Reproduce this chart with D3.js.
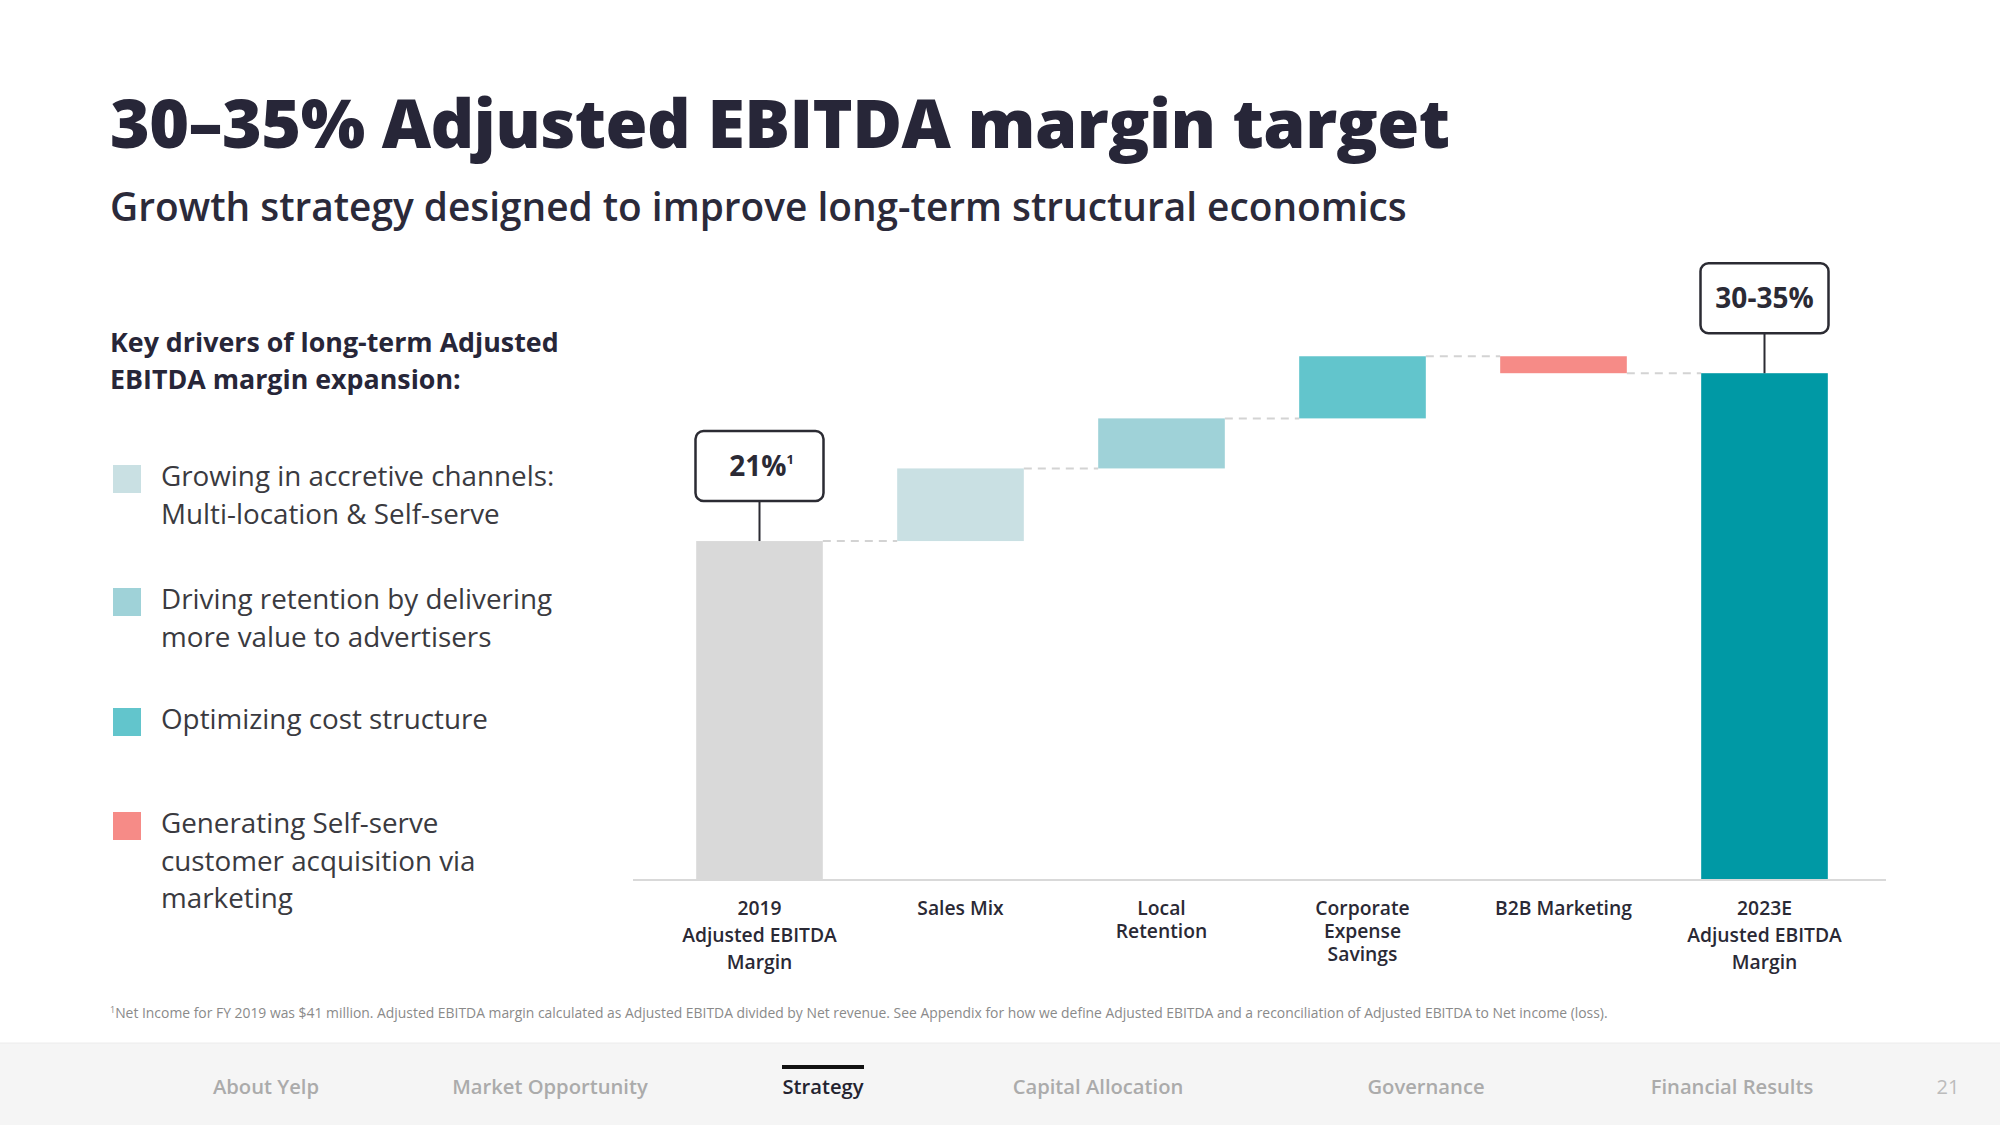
<!DOCTYPE html>
<html>
<head>
<meta charset="utf-8">
<script src="https://cdn.jsdelivr.net/npm/d3@7"></script>
<style>
  html, body { margin: 0; padding: 0; background: #ffffff; }
  svg { display: block; }
  text { font-family: "Open Sans", "Noto Sans", sans-serif; }
</style>
</head>
<body>
<svg id="chart" width="2000" height="1125"></svg>
<script>
// ---------- data ----------
const categories = ["2019 Adjusted EBITDA Margin", "Sales Mix", "Local Retention", "Corporate Expense Savings", "B2B Marketing", "2023E Adjusted EBITDA Margin"];
const categoryLines = [["2019", "Adjusted EBITDA", "Margin"], ["Sales Mix"], ["Local", "Retention"], ["Corporate", "Expense", "Savings"], ["B2B Marketing"], ["2023E", "Adjusted EBITDA", "Margin"]];
const values = [21, 4.5, 3.1, 3.85, -1.05, 31.4];
const barTypes = ["total", "delta", "delta", "delta", "delta", "total"];
const boxLabels = ["21%", null, null, null, null, "30-35%"];
const boxSup = ["1", null, null, null, null, null];
const legendLines = [
  ["Growing in accretive channels:", "Multi-location & Self-serve"],
  ["Driving retention by delivering", "more value to advertisers"],
  ["Optimizing cost structure"],
  ["Generating Self-serve", "customer acquisition via", "marketing"]
];
const navItems = ["About Yelp", "Market Opportunity", "Strategy", "Capital Allocation", "Governance", "Financial Results"];
const activeNav = "Strategy";
const pageNumber = "21";
const titleText = "30\u201335% Adjusted EBITDA margin target";
const subtitleText = "Growth strategy designed to improve long-term structural economics";
const headingLines = ["Key drivers of long-term Adjusted", "EBITDA margin expansion:"];
const footnoteText = "Net Income for FY 2019 was $41 million. Adjusted EBITDA margin calculated as Adjusted EBITDA divided by Net revenue. See Appendix for how we define Adjusted EBITDA and a reconciliation of Adjusted EBITDA to Net income (loss).";

// ---------- styles ----------
const barPalette = ["#d9d9d9", "#c9e0e3", "#9fd2d8", "#62c5cc", "#f68b87", "#0099a5"];
const legendPalette = ["#c9e0e3", "#9fd2d8", "#62c5cc", "#f68b87"];
const dark = "#272638";

const svg = d3.select("#chart");

// ---------- title ----------
svg.append("text")
  .attr("x", 110).attr("y", 148)
  .attr("font-family", "Inter, 'Open Sans', sans-serif")
  .attr("font-weight", 900)
  .attr("font-size", 68)
  .attr("textLength", 1340)
  .attr("lengthAdjust", "spacing")
  .attr("fill", dark)
  .text(titleText);

svg.append("text")
  .attr("x", 110).attr("y", 221)
  .attr("font-weight", 600)
  .attr("font-size", 38.8)
  .attr("fill", "#2b2a3a")
  .text(subtitleText);

// ---------- left panel ----------
svg.append("g").selectAll("text").data(headingLines).join("text")
  .attr("x", 110).attr("y", (d, i) => 352 + i * 37)
  .attr("font-weight", 700).attr("font-size", 26.8)
  .attr("fill", dark)
  .text(d => d);

const legendTop = [486, 609, 729, 833];
const lg = svg.append("g").selectAll("g").data(legendLines).join("g");
lg.append("rect")
  .attr("x", 113).attr("y", (d, i) => legendTop[i] - 21)
  .attr("width", 28).attr("height", 28)
  .attr("fill", (d, i) => legendPalette[i]);
lg.each(function(lines, i) {
  d3.select(this).selectAll("text").data(lines).join("text")
    .attr("x", 161).attr("y", (d, j) => legendTop[i] + j * 37.5)
    .attr("font-size", 27.8).attr("font-weight", 400)
    .attr("fill", "#3a3a40")
    .text(d => d);
});

// ---------- chart ----------
const baseY = 880;
const x = d3.scaleBand().domain(categories).range([659, 1865]).paddingInner(0.37).paddingOuter(0.185);
const y = d3.scaleLinear().domain([0, 35]).range([baseY, baseY - 35 * 16.14]);

let running = 0;
const bars = categories.map((c, i) => {
  let y0, y1;
  if (barTypes[i] === "total") { y0 = 0; y1 = values[i]; running = values[i]; }
  else { y0 = running; y1 = running + values[i]; running = y1; }
  return { cat: c, y0, y1, end: running, i };
});

const chart = svg.append("g");

// dashed connectors
chart.selectAll("line.conn").data(bars.slice(0, -1)).join("line")
  .attr("class", "conn")
  .attr("x1", d => x(d.cat) + x.bandwidth())
  .attr("x2", (d, i) => x(categories[i + 1]))
  .attr("y1", d => y(d.end)).attr("y2", d => y(d.end))
  .attr("stroke", "#d3d3d3").attr("stroke-width", 2)
  .attr("stroke-dasharray", "8,6");

// bars
chart.selectAll("rect.bar").data(bars).join("rect")
  .attr("class", "bar")
  .attr("x", d => x(d.cat))
  .attr("width", x.bandwidth())
  .attr("y", d => y(Math.max(d.y0, d.y1)))
  .attr("height", d => Math.abs(y(d.y0) - y(d.y1)))
  .attr("fill", (d, i) => barPalette[i]);

// axis baseline
chart.append("line")
  .attr("x1", 633).attr("x2", 1886)
  .attr("y1", baseY).attr("y2", baseY)
  .attr("stroke", "#d9d9d9").attr("stroke-width", 2);

// category axis
const axis = chart.append("g")
  .attr("transform", `translate(0,${baseY})`)
  .call(d3.axisBottom(x).tickSize(0).tickPadding(0));
axis.select(".domain").remove();
axis.selectAll(".tick text").each(function(d, i) {
  const t = d3.select(this);
  t.text(null)
    .attr("y", 0).attr("dy", null)
    .attr("font-family", "'Open Sans', sans-serif")
    .attr("font-size", 19.3).attr("font-weight", 600)
    .attr("fill", "#2a2935");
  const lh = barTypes[i] === "total" ? 27 : 23;
  categoryLines[i].forEach((ln, j) => {
    t.append("tspan").attr("x", 0).attr("y", 35 + j * lh).text(ln);
  });
});

// callout boxes
const callouts = bars.filter((d, i) => boxLabels[i]);
const cg = chart.selectAll("g.callout").data(callouts).join("g").attr("class", "callout");
const boxW = 128, boxH = 70, gap = 40;
cg.append("line")
  .attr("x1", d => x(d.cat) + x.bandwidth() / 2)
  .attr("x2", d => x(d.cat) + x.bandwidth() / 2)
  .attr("y1", d => y(d.y1) - gap)
  .attr("y2", d => y(d.y1))
  .attr("stroke", "#2b2b33").attr("stroke-width", 2);
cg.append("rect")
  .attr("x", d => x(d.cat) + x.bandwidth() / 2 - boxW / 2)
  .attr("y", d => y(d.y1) - gap - boxH)
  .attr("width", boxW).attr("height", boxH)
  .attr("rx", 8).attr("ry", 8)
  .attr("fill", "#ffffff").attr("stroke", "#2b2b33").attr("stroke-width", 2.5);
cg.each(function(d) {
  const g = d3.select(this);
  const cx = x(d.cat) + x.bandwidth() / 2;
  const t = g.append("text")
    .attr("x", cx + (boxSup[d.i] ? 2 : 0))
    .attr("y", y(d.y1) - gap - boxH / 2 + 10)
    .attr("text-anchor", "middle")
    .attr("font-weight", 700).attr("font-size", 28)
    .attr("fill", "#2b2a35");
  t.append("tspan").text(boxLabels[d.i]);
  if (boxSup[d.i]) {
    t.append("tspan").attr("font-size", 13).attr("dy", -12).attr("font-weight", 700).text(boxSup[d.i]);
  }
});

// ---------- footnote ----------
const fn = svg.append("text")
  .attr("x", 110).attr("y", 1018)
  .attr("font-size", 13.9).attr("fill", "#8a8a8a");
fn.append("tspan").attr("font-size", 9).attr("dy", -5).text("1");
fn.append("tspan").attr("dy", 5).text(footnoteText);

// ---------- navigation bar ----------
svg.append("rect").attr("x", 0).attr("y", 1043).attr("width", 2000).attr("height", 82).attr("fill", "#f5f5f5");
svg.append("line").attr("x1", 0).attr("x2", 2000).attr("y1", 1043).attr("y2", 1043).attr("stroke", "#ececec").attr("stroke-width", 1);
const navCenters = [266, 550, 823, 1098, 1426, 1732];
svg.append("g").selectAll("text").data(navItems).join("text")
  .attr("x", (d, i) => navCenters[i])
  .attr("y", 1094)
  .attr("text-anchor", "middle")
  .attr("font-size", 20.2).attr("font-weight", 600)
  .attr("fill", d => d === activeNav ? "#24232f" : "#ababab")
  .text(d => d);
svg.append("rect")
  .attr("x", navCenters[navItems.indexOf(activeNav)] - 41).attr("y", 1065)
  .attr("width", 82).attr("height", 4).attr("fill", "#111111");
svg.append("text")
  .attr("x", 1948).attr("y", 1094).attr("text-anchor", "middle")
  .attr("font-size", 20).attr("fill", "#bcbcbc")
  .text(pageNumber);
</script>
</body>
</html>
